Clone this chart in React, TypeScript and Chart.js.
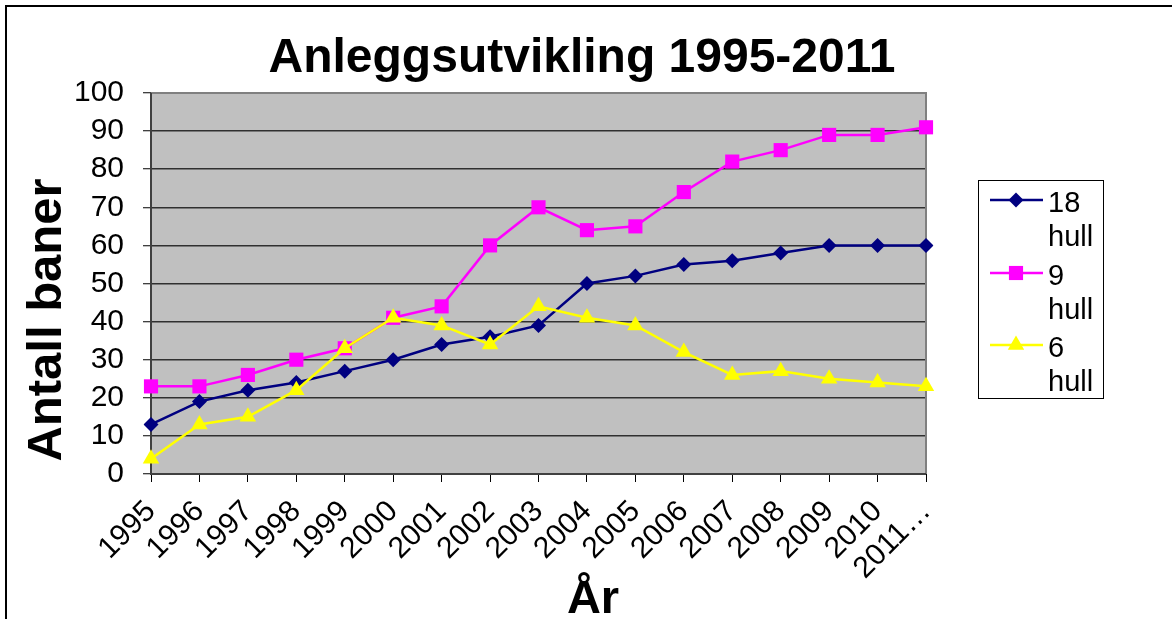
import React, { useEffect, useRef } from 'react';
import { Chart, registerables } from 'chart.js';

Chart.register(...registerables);

const years = ['1995', '1996', '1997', '1998', '1999', '2000', '2001', '2002', '2003', '2004', '2005', '2006', '2007', '2008', '2009', '2010', '2011…'];
const hull18 = [13, 19, 22, 24, 27, 30, 34, 36, 39, 50, 52, 55, 56, 58, 60, 60, 60];
const hull9 = [23, 23, 26, 30, 33, 41, 44, 60, 70, 64, 65, 74, 82, 85, 89, 89, 91];
const hull6 = [4, 13, 15, 22, 33, 41, 39, 34, 44, 41, 39, 32, 26, 27, 25, 24, 23];
const seriesNames = [['18', 'hull'], ['9', 'hull'], ['6', 'hull']];
const chartTitle = 'Anleggsutvikling 1995-2011';
const yTitle = 'Antall baner';
const xTitle = 'År';

const FONT = '"Liberation Sans", Arial, sans-serif';
const NAVY = '#000080';
const MAGENTA = '#FF00FF';
const YELLOW = '#FFFF00';

function drawMarker(ctx: CanvasRenderingContext2D, style: string, x: number, y: number, r: number, color: string) {
  ctx.save();
  ctx.fillStyle = color;
  ctx.beginPath();
  if (style === 'rectRot') {
    ctx.moveTo(x, y - r);
    ctx.lineTo(x + r, y);
    ctx.lineTo(x, y + r);
    ctx.lineTo(x - r, y);
    ctx.closePath();
  } else if (style === 'rect') {
    const s = Math.SQRT1_2 * r;
    ctx.rect(x - s, y - s, 2 * s, 2 * s);
  } else {
    const h = r * 1.5;
    const w = r * Math.sqrt(3) / 2;
    ctx.moveTo(x, y - r);
    ctx.lineTo(x + w, y - r + h);
    ctx.lineTo(x - w, y - r + h);
    ctx.closePath();
  }
  ctx.fill();
  ctx.restore();
}

const decorPlugin = {
  id: 'decor',
  beforeDraw(chart: any) {
    const { ctx, chartArea: a } = chart;
    ctx.save();
    ctx.fillStyle = '#C0C0C0';
    ctx.fillRect(a.left, a.top, a.right - a.left, a.bottom - a.top);
    ctx.restore();
  },
  beforeDatasetsDraw(chart: any) {
    const { ctx, chartArea: a } = chart;
    ctx.save();
    ctx.strokeStyle = '#808080';
    ctx.lineWidth = 2;
    ctx.beginPath();
    ctx.moveTo(a.left, a.top);
    ctx.lineTo(a.right, a.top);
    ctx.lineTo(a.right, a.bottom);
    ctx.stroke();
    ctx.strokeStyle = '#404040';
    ctx.beginPath();
    ctx.moveTo(a.left, a.top);
    ctx.lineTo(a.left, a.bottom);
    ctx.lineTo(a.right, a.bottom);
    ctx.stroke();
    ctx.restore();
  },
  afterDraw(chart: any) {
    const { ctx } = chart;
    ctx.save();
    // outer border
    ctx.strokeStyle = '#000';
    ctx.lineWidth = 2;
    ctx.strokeRect(6, 6, 1300, 800);
    // title
    ctx.fillStyle = '#000';
    ctx.font = `bold 48px ${FONT}`;
    ctx.textAlign = 'center';
    ctx.textBaseline = 'alphabetic';
    ctx.fillText(chartTitle, 582, 72);
    // x title
    ctx.font = `bold 47px ${FONT}`;
    ctx.fillText(xTitle, 593, 613);
    // y title
    ctx.save();
    ctx.translate(61, 320);
    ctx.rotate(-Math.PI / 2);
    ctx.font = `bold 49px ${FONT}`;
    ctx.fillText(yTitle, 0, 0);
    ctx.restore();
    // legend
    ctx.strokeStyle = '#000';
    ctx.lineWidth = 1;
    ctx.strokeRect(978.5, 180.5, 125, 218);
    const colors = [NAVY, MAGENTA, YELLOW];
    const styles = ['rectRot', 'rect', 'triangle'];
    const radii = [7.5, 10, 9.5];
    const lineY = [200, 273, 345];
    ctx.font = `29px ${FONT}`;
    ctx.textAlign = 'left';
    for (let i = 0; i < 3; i++) {
      ctx.strokeStyle = colors[i];
      ctx.lineWidth = 2.5;
      ctx.beginPath();
      ctx.moveTo(990, lineY[i]);
      ctx.lineTo(1043, lineY[i]);
      ctx.stroke();
      drawMarker(ctx, styles[i], 1016, lineY[i], radii[i], colors[i]);
      ctx.fillStyle = '#000';
      ctx.fillText(seriesNames[i][0], 1048, lineY[i] + 12);
      ctx.fillText(seriesNames[i][1], 1048, lineY[i] + 46);
    }
    ctx.restore();
  },
};

export default function App() {
  const ref = useRef<HTMLCanvasElement>(null);
  useEffect(() => {
    document.body.style.margin = '0';
    const chart = new Chart(ref.current!, {
      type: 'line',
      data: {
        labels: years,
        datasets: [
          {
            label: '18 hull', data: hull18, borderColor: NAVY, backgroundColor: NAVY,
            borderWidth: 2.5, pointStyle: 'rectRot', pointRadius: 7.5, pointBorderWidth: 0, order: 2, tension: 0,
          },
          {
            label: '9 hull', data: hull9, borderColor: MAGENTA, backgroundColor: MAGENTA,
            borderWidth: 2.5, pointStyle: 'rect', pointRadius: 10, pointBorderWidth: 0, order: 1, tension: 0,
          },
          {
            label: '6 hull', data: hull6, borderColor: YELLOW, backgroundColor: YELLOW,
            borderWidth: 2.5, pointStyle: 'triangle', pointRadius: 9.5, pointBorderWidth: 0, order: 0, tension: 0,
          },
        ],
      },
      options: {
        animation: false,
        responsive: false,
        layout: { padding: { top: 93, right: 246, left: 0, bottom: 0 } },
        plugins: { legend: { display: false }, tooltip: { enabled: false }, title: { display: false } },
        scales: {
          x: {
            offset: false,
            afterFit: (s: any) => { s.height = 145; },
            grid: { drawOnChartArea: false, drawTicks: true, tickLength: 8, tickColor: '#000', tickWidth: 1 },
            border: { display: false },
            ticks: { color: '#000', font: { family: FONT, size: 30 }, minRotation: 45, maxRotation: 45, padding: 12, autoSkip: false },
          },
          y: {
            min: 0, max: 100,
            afterFit: (s: any) => { s.width = 151; },
            grid: { color: '#303030', lineWidth: 1.5, tickLength: 8, tickColor: '#000', tickWidth: 1 },
            border: { display: false },
            ticks: { stepSize: 10, autoSkip: false, color: '#000', font: { family: FONT, size: 30 }, padding: 19 },
          },
        },
      },
      plugins: [decorPlugin],
    });
    return () => chart.destroy();
  }, []);
  return (
    <div style={{ width: 1172, height: 619, position: 'relative' }}>
      <canvas ref={ref} width={1172} height={619} style={{ display: 'block' }} />
    </div>
  );
}
